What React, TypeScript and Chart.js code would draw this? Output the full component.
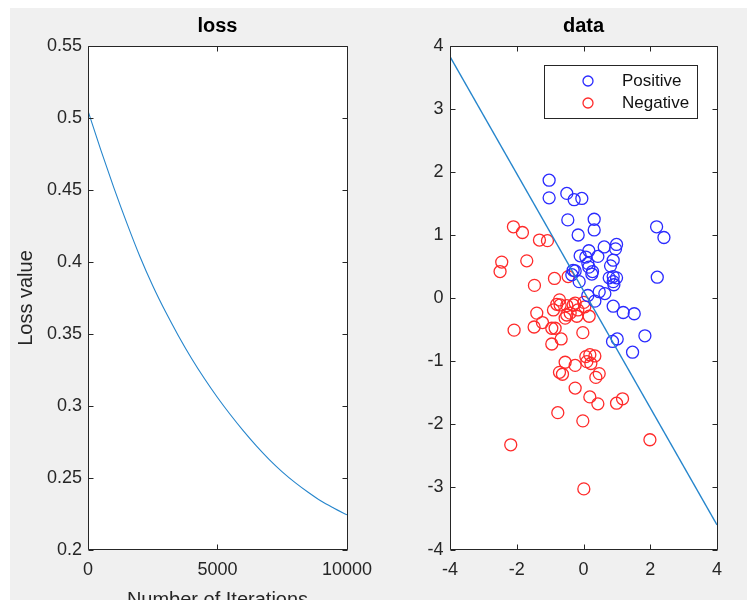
import React, { useEffect, useRef } from "react";
import { Chart, registerables } from "chart.js";

Chart.register(...registerables);

const FONT = "'Liberation Sans', Arial, Helvetica, sans-serif";
const AXIS_COLOR = "#262626";
const LINE_COLOR = "#2585cc";

// ---- loss subplot data ----
const iterations = [0, 500, 1000, 1500, 2000, 2500, 3000, 3500, 4000, 4500, 5000, 5500, 6000, 6500, 7000, 7500, 8000, 8500, 9000, 9500, 10000];
const lossValues = [0.505, 0.4775, 0.4515, 0.427, 0.404, 0.3835, 0.3652, 0.3485, 0.333, 0.3189, 0.3059, 0.2939, 0.2827, 0.2723, 0.2628, 0.2543, 0.2468, 0.2401, 0.234, 0.229, 0.2244];

// ---- data subplot ----
const posX = [-1.03, -1.03, -0.5, -0.28, -0.05, -0.47, 0.32, 0.32, -0.16, 2.19, 2.41, 0.99, 0.96, 0.62, 0.16, -0.1, 0.07, 0.43, 0.89, 0.81, 0.13, 0.16, 0.27, 0.25, -0.31, -0.25, -0.35, -0.13, 0.77, 0.89, 0.99, 0.89, 0.91, 2.21, 0.13, 0.47, 0.64, 0.34, 0.89, 1.19, 1.52, 0.87, 1.01, 1.84, 1.47];
const posY = [1.87, 1.59, 1.66, 1.56, 1.58, 1.24, 1.25, 1.08, 1.0, 1.13, 0.96, 0.85, 0.78, 0.81, 0.75, 0.67, 0.65, 0.66, 0.6, 0.51, 0.55, 0.49, 0.42, 0.38, 0.44, 0.43, 0.37, 0.26, 0.32, 0.34, 0.32, 0.26, 0.21, 0.33, 0.04, 0.1, 0.07, -0.05, -0.13, -0.23, -0.25, -0.69, -0.65, -0.6, -0.86];

const negX = [-2.1, -1.83, -1.32, -1.08, -2.45, -2.5, -1.7, -0.87, -0.46, -1.47, -0.72, -0.8, -0.9, -0.5, -0.25, 0.01, 0.04, -1.4, 0.17, -2.08, -1.48, -1.23, -0.95, -0.85, -0.95, -0.67, -0.02, -0.5, -0.55, -0.2, -0.7, -0.31, -0.4, -0.17, -0.55, -0.25, 0.07, 0.19, 0.34, 0.22, 0.1, -0.72, -0.63, 0.47, 0.37, -0.25, 0.19, 0.43, 0.99, 1.17, -0.77, -0.02, -2.18, 1.99, 0.01];
const negY = [1.13, 1.04, 0.92, 0.91, 0.57, 0.42, 0.59, 0.31, 0.34, 0.2, -0.03, -0.1, -0.19, -0.12, -0.08, -0.07, -0.14, -0.24, -0.29, -0.51, -0.46, -0.39, -0.48, -0.48, -0.73, -0.65, -0.55, -0.27, -0.32, -0.29, -0.11, -0.11, -0.24, -0.19, -1.02, -1.07, -0.93, -0.9, -0.92, -1.04, -1.01, -1.18, -1.21, -1.2, -1.26, -1.43, -1.57, -1.68, -1.67, -1.6, -1.82, -1.95, -2.33, -2.25, -3.03];

const boundaryX = [-4, 4];
const boundaryY = [3.83, -3.6];

const legendLabels = ["Positive", "Negative"];

const fmt = (v: number | string) => String(parseFloat(Number(v).toFixed(4)));

const CANVAS_W = 371;
const CANVAS_H = 607;
const X_AXIS_H = 65;

// white axes background
const axesBgPlugin = {
  id: "axesBg",
  beforeDraw(chart: any) {
    const { ctx, chartArea } = chart;
    ctx.save();
    ctx.fillStyle = "#ffffff";
    ctx.fillRect(chartArea.left, chartArea.top, chartArea.right - chartArea.left, chartArea.bottom - chartArea.top);
    ctx.restore();
  },
};

// MATLAB-like box with inward ticks on all four sides
const boxPlugin = {
  id: "matlabBox",
  afterDatasetsDraw(chart: any) {
    const { ctx, chartArea } = chart;
    const L = Math.round(chartArea.left) + 0.5;
    const R = Math.round(chartArea.right) + 0.5;
    const T = Math.round(chartArea.top) + 0.5;
    const B = Math.round(chartArea.bottom) - 0.5;
    const tl = 5;
    ctx.save();
    ctx.strokeStyle = AXIS_COLOR;
    ctx.lineWidth = 1;
    ctx.beginPath();
    ctx.rect(L, T, R - L, B - T);
    const xs = chart.scales.x;
    const ys = chart.scales.y;
    xs.ticks.forEach((t: any) => {
      const p = Math.round(xs.getPixelForValue(t.value)) + 0.5;
      ctx.moveTo(p, B);
      ctx.lineTo(p, B - tl);
      ctx.moveTo(p, T);
      ctx.lineTo(p, T + tl);
    });
    ys.ticks.forEach((t: any) => {
      const p = Math.round(ys.getPixelForValue(t.value)) + 0.5;
      ctx.moveTo(L, p);
      ctx.lineTo(L + tl, p);
      ctx.moveTo(R, p);
      ctx.lineTo(R - tl, p);
    });
    ctx.stroke();
    ctx.restore();
  },
};

const legendBoxPlugin = {
  id: "legendBox",
  afterDraw(chart: any) {
    if (!chart.options.plugins.legendBox) return;
    const { ctx, chartArea } = chart;
    const w = 153;
    const h = 53;
    const x0 = Math.round(chartArea.right - 173);
    const y0 = Math.round(chartArea.top + 19);
    ctx.save();
    ctx.fillStyle = "#ffffff";
    ctx.fillRect(x0, y0, w, h);
    ctx.strokeStyle = AXIS_COLOR;
    ctx.lineWidth = 1;
    ctx.strokeRect(x0 + 0.5, y0 + 0.5, w, h);
    const items = chart.data.datasets.filter((d: any) => legendLabels.includes(d.label));
    items.forEach((d: any, i: number) => {
      const cy = y0 + 16 + i * 22;
      ctx.beginPath();
      ctx.strokeStyle = d.borderColor;
      ctx.lineWidth = 1.3;
      ctx.arc(x0 + 44, cy, 5, 0, Math.PI * 2);
      ctx.stroke();
      ctx.fillStyle = "#111111";
      ctx.font = `17px ${FONT}`;
      ctx.textAlign = "left";
      ctx.textBaseline = "middle";
      ctx.fillText(d.label, x0 + 78, cy);
    });
    ctx.restore();
  },
};

const tickFont = { family: FONT, size: 18 };
const labelFont = { family: FONT, size: 20 };
const titleFont = { family: FONT, size: 20, weight: "bold" as const };

function LossChart() {
  const ref = useRef<HTMLCanvasElement>(null);
  useEffect(() => {
    if (!ref.current) return;
    const chart = new Chart(ref.current, {
      type: "line",
      data: {
        datasets: [
          {
            label: "loss",
            data: iterations.map((x, i) => ({ x, y: lossValues[i] })),
            borderColor: LINE_COLOR,
            borderWidth: 1.1,
            pointRadius: 0,
            cubicInterpolationMode: "monotone",
            fill: false,
          },
        ],
      },
      options: {
        responsive: false,
        animation: false,
        layout: { padding: { left: 0, right: 28, top: 0, bottom: 0 } },
        plugins: {
          legend: { display: false },
          tooltip: { enabled: false },
          title: {
            display: true,
            text: "loss",
            fullSize: false,
            color: "#000000",
            font: titleFont,
            padding: { top: 6.5, bottom: 7.5 },
          },
        },
        scales: {
          x: {
            type: "linear",
            min: 0,
            max: 10000,
            grid: { display: false, drawTicks: false },
            border: { display: false },
            ticks: { stepSize: 5000, font: tickFont, color: AXIS_COLOR, padding: 9, maxRotation: 0, autoSkip: false, callback: (v: any) => fmt(v) },
            title: { display: true, text: "Number of Iterations", color: AXIS_COLOR, font: labelFont, padding: { top: 0, bottom: 3 } },
            afterFit: (s: any) => { s.height = X_AXIS_H; },
          },
          y: {
            type: "linear",
            min: 0.2,
            max: 0.55,
            grid: { display: false, drawTicks: false },
            border: { display: false },
            ticks: { stepSize: 0.05, font: tickFont, color: AXIS_COLOR, padding: 6, autoSkip: false, callback: (v: any) => fmt(v) },
            title: { display: true, text: "Loss value", color: AXIS_COLOR, font: labelFont, padding: { top: 4, bottom: 0 } },
            afterFit: (s: any) => { s.width = 78; },
          },
        },
      } as any,
      plugins: [axesBgPlugin, boxPlugin],
    });
    return () => chart.destroy();
  }, []);
  return <canvas ref={ref} width={CANVAS_W} height={CANVAS_H} />;
}

function DataChart() {
  const ref = useRef<HTMLCanvasElement>(null);
  useEffect(() => {
    if (!ref.current) return;
    const chart = new Chart(ref.current, {
      type: "scatter",
      data: {
        datasets: [
          {
            label: legendLabels[0],
            data: posX.map((x, i) => ({ x, y: posY[i] })),
            borderColor: "#2a2aff",
            backgroundColor: "rgba(0,0,0,0)",
            borderWidth: 1.3,
            pointRadius: 6,
            pointStyle: "circle",
          },
          {
            label: legendLabels[1],
            data: negX.map((x, i) => ({ x, y: negY[i] })),
            borderColor: "#ff2a2a",
            backgroundColor: "rgba(0,0,0,0)",
            borderWidth: 1.3,
            pointRadius: 6,
            pointStyle: "circle",
          },
          {
            type: "line",
            label: "",
            data: boundaryX.map((x, i) => ({ x, y: boundaryY[i] })),
            borderColor: LINE_COLOR,
            borderWidth: 1.4,
            pointRadius: 0,
            showLine: true,
            fill: false,
            order: -1,
          } as any,
        ],
      },
      options: {
        responsive: false,
        animation: false,
        layout: { padding: { left: 0, right: 35, top: 0, bottom: 0 } },
        plugins: {
          legend: { display: false },
          tooltip: { enabled: false },
          legendBox: true,
          title: {
            display: true,
            text: "data",
            fullSize: false,
            color: "#000000",
            font: titleFont,
            padding: { top: 6.5, bottom: 7.5 },
          },
        },
        scales: {
          x: {
            type: "linear",
            min: -4,
            max: 4,
            grid: { display: false, drawTicks: false },
            border: { display: false },
            ticks: { stepSize: 2, font: tickFont, color: AXIS_COLOR, padding: 9, maxRotation: 0, autoSkip: false, callback: (v: any) => fmt(v) },
            afterFit: (s: any) => { s.height = X_AXIS_H; },
          },
          y: {
            type: "linear",
            min: -4,
            max: 4,
            grid: { display: false, drawTicks: false },
            border: { display: false },
            ticks: { stepSize: 1, font: tickFont, color: AXIS_COLOR, padding: 6.5, autoSkip: false, callback: (v: any) => fmt(v) },
            afterFit: (s: any) => { s.width = 69; },
          },
        },
      } as any,
      plugins: [axesBgPlugin, boxPlugin, legendBoxPlugin],
    });
    return () => chart.destroy();
  }, []);
  return <canvas ref={ref} width={CANVAS_W} height={CANVAS_H} />;
}

export default function App() {
  return (
    <div
      style={{
        marginLeft: 2,
        width: 742,
        height: 592,
        background: "#f0f0f0",
        position: "relative",
        overflow: "hidden",
      }}
    >
      <div style={{ position: "absolute", left: 0, top: 0, width: CANVAS_W, height: CANVAS_H }}>
        <LossChart />
      </div>
      <div style={{ position: "absolute", left: CANVAS_W, top: 0, width: CANVAS_W, height: CANVAS_H }}>
        <DataChart />
      </div>
    </div>
  );
}
